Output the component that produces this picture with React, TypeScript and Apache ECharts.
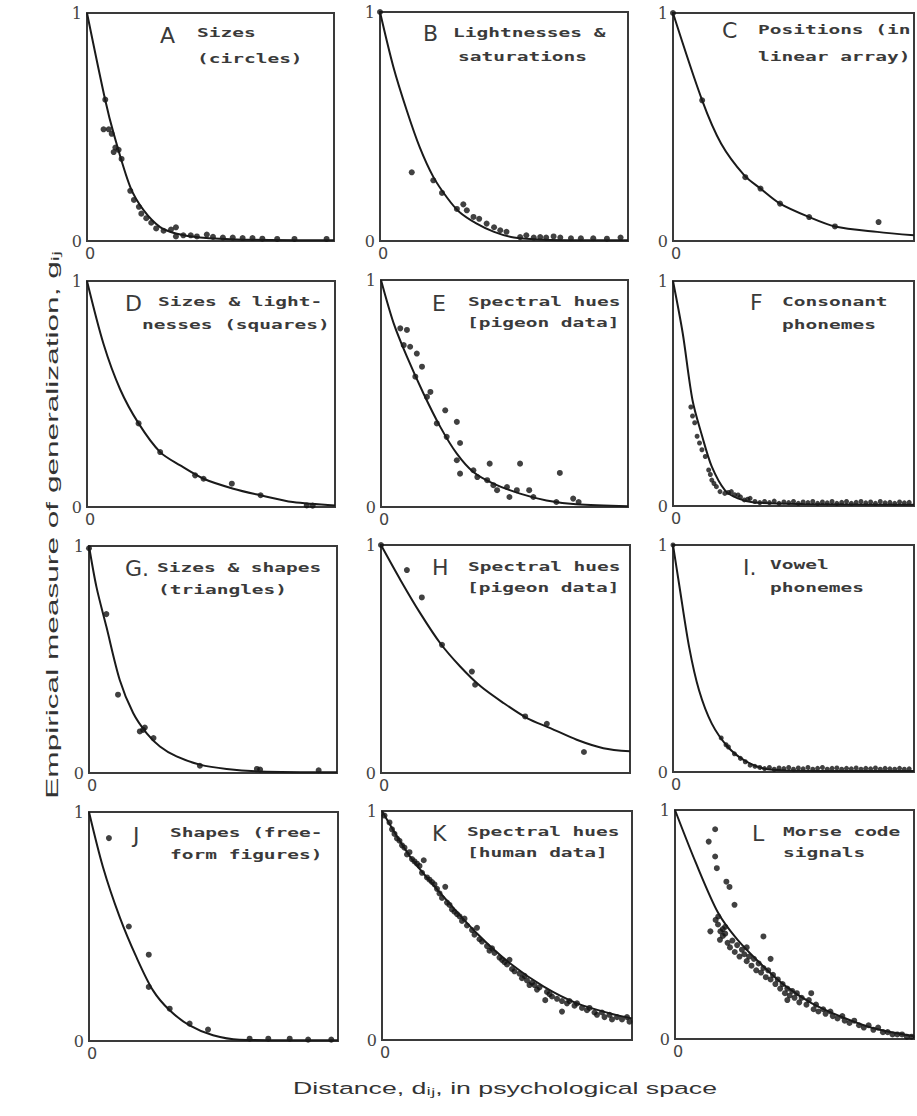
import React, { useEffect, useRef } from 'react';
import * as echarts from 'echarts';

// ---- data (x: fraction of plotted distance range, y: generalization 0..1) ----
const curveA = [[0,1],[0.074,0.617],[0.108,0.471],[0.175,0.237],[0.229,0.135],[0.296,0.061],[0.364,0.032],[0.458,0.015],[0.633,0.006],[1,0.003]];
const pointsA = [[0.074,0.62],[0.067,0.49],[0.088,0.49],[0.10,0.47],[0.115,0.41],[0.128,0.40],[0.108,0.39],[0.14,0.36],[0.175,0.22],[0.19,0.18],[0.21,0.15],[0.22,0.12],[0.24,0.10],[0.26,0.08],[0.28,0.055],[0.31,0.045],[0.34,0.05],[0.36,0.06],[0.36,0.02],[0.39,0.025],[0.42,0.025],[0.445,0.02],[0.485,0.028],[0.51,0.018],[0.55,0.015],[0.59,0.015],[0.63,0.013],[0.67,0.013],[0.71,0.01],[0.77,0.009],[0.84,0.009],[0.97,0.009]];

const curveB = [[0,1],[0.054,0.76],[0.108,0.57],[0.16,0.41],[0.215,0.28],[0.27,0.19],[0.32,0.127],[0.39,0.076],[0.46,0.04],[0.54,0.015],[0.66,0.006],[1,0.003]];
const pointsB = [[0,1],[0.128,0.30],[0.215,0.265],[0.25,0.21],[0.31,0.14],[0.336,0.16],[0.35,0.134],[0.377,0.105],[0.40,0.097],[0.43,0.076],[0.46,0.06],[0.485,0.047],[0.51,0.04],[0.565,0.017],[0.59,0.025],[0.62,0.015],[0.646,0.017],[0.67,0.015],[0.70,0.02],[0.727,0.015],[0.77,0.012],[0.81,0.012],[0.86,0.012],[0.915,0.01],[0.97,0.015]];

const curveC = [[0,1],[0.121,0.617],[0.20,0.427],[0.296,0.288],[0.363,0.23],[0.444,0.164],[0.565,0.105],[0.672,0.064],[0.847,0.04],[1,0.025]];
const pointsC = [[0,1],[0.121,0.617],[0.30,0.28],[0.363,0.23],[0.444,0.164],[0.565,0.105],[0.672,0.064],[0.853,0.083]];

const curveD = [[0,1],[0.067,0.72],[0.134,0.52],[0.208,0.37],[0.295,0.243],[0.376,0.184],[0.47,0.125],[0.59,0.081],[0.70,0.052],[0.83,0.022],[1,0.007]];
const pointsD = [[0.208,0.37],[0.295,0.243],[0.436,0.14],[0.47,0.125],[0.584,0.103],[0.70,0.052],[0.886,0.007],[0.91,0.006]];

const curveE = [[0,1],[0.051,0.81],[0.105,0.662],[0.172,0.50],[0.24,0.353],[0.307,0.235],[0.374,0.154],[0.455,0.103],[0.563,0.059],[0.67,0.029],[0.79,0.012],[1,0.003]];
const pointsE = [[0.078,0.787],[0.105,0.78],[0.092,0.713],[0.118,0.706],[0.145,0.676],[0.166,0.618],[0.139,0.574],[0.20,0.507],[0.186,0.485],[0.26,0.426],[0.307,0.375],[0.226,0.368],[0.32,0.282],[0.266,0.309],[0.307,0.206],[0.32,0.147],[0.374,0.162],[0.39,0.132],[0.44,0.191],[0.43,0.118],[0.455,0.096],[0.47,0.074],[0.51,0.088],[0.52,0.044],[0.55,0.074],[0.563,0.191],[0.60,0.074],[0.617,0.044],[0.724,0.15],[0.71,0.022],[0.778,0.037],[0.80,0.022]];

const curveF = [[0,1],[0.04,0.77],[0.081,0.47],[0.121,0.31],[0.161,0.175],[0.215,0.071],[0.269,0.034],[0.336,0.016],[0.538,0.009],[1,0.006]];
const pointsF = [[0.074,0.44],[0.081,0.40],[0.09,0.37],[0.10,0.31],[0.11,0.28],[0.12,0.25],[0.134,0.22],[0.148,0.16],[0.155,0.14],[0.161,0.115],[0.17,0.10],[0.18,0.086],[0.195,0.064],[0.215,0.056],[0.23,0.06],[0.242,0.064],[0.255,0.05],[0.27,0.049],[0.28,0.04],[0.296,0.027],[0.31,0.03],[0.32,0.034],[0.34,0.02],[0.36,0.015],[0.38,0.02],[0.40,0.015],[0.42,0.022],[0.44,0.012],[0.46,0.018],[0.48,0.015],[0.50,0.02],[0.52,0.012],[0.54,0.018],[0.56,0.015],[0.58,0.02],[0.60,0.012],[0.62,0.018],[0.64,0.014],[0.66,0.02],[0.68,0.012],[0.70,0.016],[0.72,0.02],[0.74,0.012],[0.76,0.016],[0.78,0.02],[0.80,0.014],[0.82,0.018],[0.84,0.012],[0.86,0.02],[0.88,0.014],[0.90,0.016],[0.92,0.012],[0.94,0.018],[0.96,0.014],[0.98,0.016]];

const curveG = [[0,1],[0.03,0.82],[0.07,0.645],[0.124,0.41],[0.178,0.264],[0.232,0.176],[0.286,0.117],[0.353,0.073],[0.447,0.037],[0.555,0.018],[0.69,0.007],[1,0.003]];
const pointsG = [[0,0.99],[0.07,0.70],[0.117,0.345],[0.205,0.183],[0.225,0.2],[0.218,0.19],[0.26,0.154],[0.447,0.032],[0.677,0.018],[0.69,0.015],[0.926,0.012]];

const curveH = [[0,1],[0.078,0.847],[0.158,0.70],[0.238,0.569],[0.318,0.467],[0.40,0.38],[0.492,0.307],[0.586,0.241],[0.68,0.197],[0.786,0.146],[0.893,0.109],[1,0.095]];
const pointsH = [[0,1],[0.104,0.89],[0.164,0.77],[0.245,0.562],[0.365,0.445],[0.378,0.387],[0.579,0.248],[0.666,0.216],[0.815,0.092]];

const curveI = [[0,1],[0.027,0.816],[0.067,0.55],[0.108,0.36],[0.161,0.213],[0.228,0.11],[0.296,0.051],[0.376,0.015],[0.47,0.007],[1,0.004]];
const pointsI = [[0,1],[0.20,0.15],[0.22,0.12],[0.23,0.11],[0.255,0.08],[0.28,0.06],[0.30,0.045],[0.32,0.03],[0.34,0.025],[0.36,0.02],[0.38,0.015],[0.40,0.02],[0.42,0.012],[0.44,0.018],[0.46,0.015],[0.48,0.02],[0.50,0.012],[0.52,0.018],[0.54,0.014],[0.56,0.02],[0.58,0.012],[0.60,0.016],[0.62,0.02],[0.64,0.012],[0.66,0.016],[0.68,0.018],[0.70,0.012],[0.72,0.016],[0.74,0.014],[0.76,0.018],[0.78,0.012],[0.80,0.016],[0.82,0.014],[0.84,0.018],[0.86,0.012],[0.88,0.016],[0.90,0.014],[0.92,0.012],[0.94,0.016],[0.96,0.012],[0.98,0.014]];

const curveJ = [[0,1],[0.056,0.76],[0.123,0.542],[0.19,0.367],[0.257,0.221],[0.324,0.134],[0.404,0.068],[0.498,0.025],[0.605,0.006],[1,0.003]];
const pointsJ = [[0.08,0.886],[0.16,0.50],[0.24,0.377],[0.24,0.236],[0.324,0.141],[0.404,0.076],[0.478,0.05],[0.645,0.01],[0.72,0.01],[0.806,0.01],[0.88,0.006],[0.973,0.006]];

const curveK = [[0,1],[0.113,0.80],[0.247,0.625],[0.38,0.465],[0.513,0.334],[0.647,0.233],[0.78,0.16],[0.913,0.116],[1,0.094]];
const pointsK = [[0.01,0.98],[0.03,0.95],[0.04,0.92],[0.05,0.90],[0.06,0.88],[0.07,0.87],[0.08,0.85],[0.09,0.84],[0.10,0.81],[0.11,0.82],[0.12,0.79],[0.13,0.78],[0.14,0.77],[0.15,0.76],[0.167,0.785],[0.16,0.73],[0.18,0.71],[0.19,0.70],[0.20,0.69],[0.21,0.68],[0.22,0.66],[0.23,0.64],[0.253,0.669],[0.24,0.62],[0.26,0.60],[0.27,0.59],[0.28,0.57],[0.29,0.56],[0.30,0.55],[0.31,0.54],[0.32,0.52],[0.33,0.53],[0.34,0.50],[0.36,0.48],[0.38,0.49],[0.37,0.46],[0.39,0.44],[0.40,0.43],[0.42,0.41],[0.43,0.39],[0.44,0.40],[0.45,0.38],[0.47,0.36],[0.48,0.35],[0.49,0.34],[0.50,0.33],[0.51,0.35],[0.52,0.31],[0.53,0.30],[0.55,0.29],[0.56,0.27],[0.57,0.28],[0.58,0.26],[0.59,0.24],[0.60,0.25],[0.61,0.24],[0.62,0.22],[0.63,0.23],[0.653,0.174],[0.66,0.21],[0.67,0.20],[0.68,0.19],[0.70,0.18],[0.72,0.124],[0.72,0.17],[0.74,0.16],[0.75,0.17],[0.77,0.15],[0.78,0.16],[0.80,0.14],[0.82,0.13],[0.83,0.14],[0.85,0.12],[0.86,0.11],[0.88,0.12],[0.89,0.10],[0.91,0.11],[0.92,0.09],[0.94,0.10],[0.96,0.09],[0.98,0.10],[0.99,0.08]];

const curveL = [[0,1],[0.087,0.77],[0.181,0.55],[0.262,0.433],[0.37,0.317],[0.464,0.23],[0.571,0.157],[0.692,0.099],[0.827,0.048],[1,0.012]];
const pointsL = [[0.168,0.916],[0.141,0.862],[0.168,0.797],[0.175,0.746],[0.215,0.687],[0.228,0.664],[0.249,0.586],[0.148,0.47],[0.181,0.535],[0.188,0.433],[0.37,0.448],[0.20,0.48],[0.17,0.52],[0.18,0.50],[0.19,0.47],[0.20,0.45],[0.21,0.46],[0.22,0.42],[0.23,0.40],[0.24,0.43],[0.25,0.38],[0.26,0.41],[0.27,0.36],[0.28,0.39],[0.29,0.37],[0.30,0.34],[0.31,0.36],[0.32,0.32],[0.33,0.35],[0.34,0.30],[0.35,0.33],[0.36,0.29],[0.37,0.31],[0.38,0.27],[0.39,0.30],[0.40,0.26],[0.41,0.28],[0.42,0.24],[0.43,0.26],[0.44,0.22],[0.45,0.24],[0.46,0.20],[0.47,0.22],[0.48,0.19],[0.49,0.21],[0.50,0.18],[0.51,0.20],[0.52,0.16],[0.53,0.18],[0.55,0.15],[0.56,0.17],[0.58,0.13],[0.59,0.15],[0.60,0.12],[0.62,0.13],[0.63,0.11],[0.65,0.12],[0.66,0.10],[0.68,0.09],[0.70,0.10],[0.71,0.08],[0.73,0.07],[0.75,0.08],[0.77,0.06],[0.79,0.05],[0.81,0.06],[0.83,0.04],[0.85,0.05],[0.87,0.03],[0.89,0.03],[0.91,0.02],[0.93,0.02],[0.95,0.02],[0.97,0.01],[0.99,0.01],[0.21,0.49],[0.30,0.40],[0.40,0.35],[0.57,0.20],[0.47,0.17]];

const curves = [curveA, curveB, curveC, curveD, curveE, curveF, curveG, curveH, curveI, curveJ, curveK, curveL];
const pointSets = [pointsA, pointsB, pointsC, pointsD, pointsE, pointsF, pointsG, pointsH, pointsI, pointsJ, pointsK, pointsL];

const panelLetters = ['A', 'B', 'C', 'D', 'E', 'F', 'G.', 'H', 'I.', 'J', 'K', 'L'];
const panelLines = [
  ['Sizes', '(circles)'],
  ['Lightnesses &', 'saturations'],
  ['Positions (in', 'linear array)'],
  ['Sizes & light-', 'nesses (squares)'],
  ['Spectral hues', '[pigeon data]'],
  ['Consonant', 'phonemes'],
  ['Sizes & shapes', '(triangles)'],
  ['Spectral hues', '[pigeon data]'],
  ['Vowel', 'phonemes'],
  ['Shapes (free-', 'form figures)'],
  ['Spectral hues', '[human data]'],
  ['Morse code', 'signals'],
];
const yTickLabels = ['0', '1'];
const xTickLabels = ['0'];
const yTitle = 'Empirical measure of generalization, gᵢⱼ';
const xTitle = 'Distance, dᵢⱼ, in psychological space';

// ---- layout (pixels) ----
const boxes = [
  [87, 13, 247, 228], [380, 12, 248, 229], [673, 13, 248, 228],
  [87, 281, 248, 226], [381, 280, 247, 227], [673, 281, 248, 225],
  [89, 546, 248, 227], [381, 545, 249, 228], [673, 545, 248, 227],
  [89, 812, 249, 229], [382, 811, 250, 229], [675, 810, 248, 229],
];
// letter left, letter y, line1 x, line1 y, line2 x, line2 y
const labelPos = [
  [160, 35, 197, 33, 197, 59],
  [423, 33, 453, 33, 458, 57],
  [722, 30, 758, 30, 758, 57],
  [125, 303, 158, 302, 142, 325],
  [432, 303, 468, 302, 467, 323],
  [750, 302, 782, 302, 782, 325],
  [125, 568, 157, 568, 158, 590],
  [432, 567, 468, 567, 467, 588],
  [743, 567, 770, 565, 770, 588],
  [133, 835, 170, 833, 170, 855],
  [432, 833, 467, 832, 467, 853],
  [752, 833, 783, 832, 783, 853],
];
const symbolSizes = [6, 6, 6, 6, 6, 5, 6, 6, 5, 6, 6, 6];

export default function App() {
  const ref = useRef<HTMLDivElement>(null);
  useEffect(() => {
    const chart = echarts.init(ref.current!, null, { renderer: 'svg' });
    const grids: any[] = [];
    const xAxes: any[] = [];
    const yAxes: any[] = [];
    const series: any[] = [];
    const graphics: any[] = [];
    boxes.forEach((b, i) => {
      grids.push({
        left: b[0], top: b[1], width: b[2], height: b[3],
        show: true, borderColor: '#3a3a3a', borderWidth: 2, backgroundColor: 'transparent',
      });
      xAxes.push({
        gridIndex: i, type: 'value', min: 0, max: 1, interval: 1,
        axisLine: { show: false }, axisTick: { show: false }, splitLine: { show: false },
        axisLabel: {
          fontFamily: 'DejaVu Sans', fontSize: 16, color: '#444', margin: 4, padding: [0, 0, 0, 6],
          formatter: (v: number) => (v === 0 ? xTickLabels[0] : ''),
        },
      });
      yAxes.push({
        gridIndex: i, type: 'value', min: 0, max: 1, interval: 1,
        axisLine: { show: false }, axisTick: { show: false }, splitLine: { show: false },
        axisLabel: {
          fontFamily: 'DejaVu Serif', fontSize: 16, color: '#444', margin: 5,
          formatter: (v: number) => (v === 0 ? yTickLabels[0] : v === 1 ? yTickLabels[1] : ''),
        },
      });
      series.push({
        type: 'line', xAxisIndex: i, yAxisIndex: i, data: curves[i],
        smooth: 0.3, showSymbol: false, symbol: 'none',
        lineStyle: { color: '#1a1a1a', width: 2 }, silent: true,
      });
      series.push({
        type: 'scatter', xAxisIndex: i, yAxisIndex: i, data: pointSets[i],
        symbol: 'circle', symbolSize: symbolSizes[i],
        itemStyle: { color: '#111' }, silent: true,
      });
      const p = labelPos[i];
      graphics.push({
        type: 'text', x: p[0], y: p[1],
        style: { text: panelLetters[i], fontFamily: 'DejaVu Sans', fontSize: 22, fill: '#3a3a3a', align: 'left', verticalAlign: 'middle' },
      });
      graphics.push({
        type: 'text', x: p[2], y: p[3], scaleX: 1.5,
        style: { text: panelLines[i][0], fontFamily: 'DejaVu Sans Mono', fontWeight: 'bold', fontSize: 13, fill: '#3a3a3a', align: 'left', verticalAlign: 'middle' },
      });
      graphics.push({
        type: 'text', x: p[4], y: p[5], scaleX: 1.5,
        style: { text: panelLines[i][1], fontFamily: 'DejaVu Sans Mono', fontWeight: 'bold', fontSize: 13, fill: '#3a3a3a', align: 'left', verticalAlign: 'middle' },
      });
    });
    graphics.push({
      type: 'text', x: 52, y: 525, rotation: Math.PI / 2, scaleX: 1.86,
      style: { text: yTitle, fontFamily: 'Liberation Sans', fontSize: 17, fill: '#333', align: 'center', verticalAlign: 'middle' },
    });
    graphics.push({
      type: 'text', x: 505, y: 1088, scaleX: 1.57,
      style: { text: xTitle, fontFamily: 'Liberation Sans', fontSize: 17, fill: '#333', align: 'center', verticalAlign: 'middle' },
    });
    chart.setOption({
      animation: false,
      backgroundColor: '#fff',
      grid: grids,
      xAxis: xAxes,
      yAxis: yAxes,
      series,
      graphic: { elements: graphics },
    });
    return () => chart.dispose();
  }, []);
  return <div ref={ref} style={{ position: 'absolute', left: 0, top: 0, width: 917, height: 1116, background: '#fff' }} />;
}
